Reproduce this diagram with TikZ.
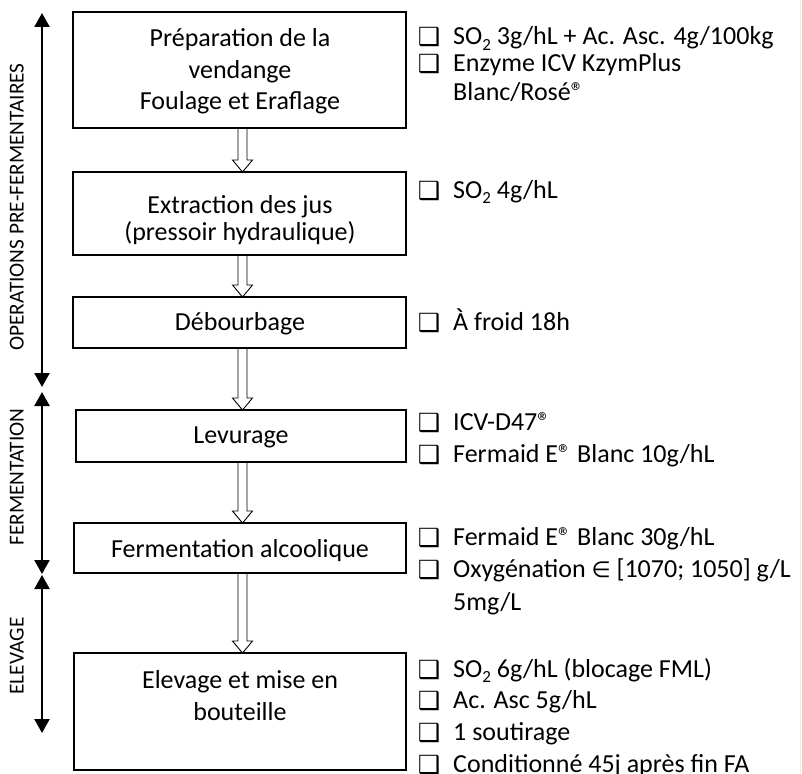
\documentclass[tikz,border=0pt]{standalone}
\usepackage{fontspec}
\setmainfont{Carlito}
\newfontfamily\dejavu{DejaVu Sans}
\usetikzlibrary{arrows.meta,calc}
\newcommand{\flowarrow}[2]{\path[flowarr] let \p1=(#1.south -| ax), \p2=(#2.north -| ax) in
 (\x1-4.5pt,\y1) -- (\x1+4.5pt,\y1) -- (\x1+4.5pt,\y2+12pt) -- (\x1+10pt,\y2+12pt) -- (\x1,\y2) -- (\x1-10pt,\y2+12pt) -- (\x1-4.5pt,\y2+12pt) -- cycle;}
\newcommand{\reg}{®}
\newcommand{\subtwo}{\raisebox{-5.5pt}[0pt][0pt]{\fontsize{17}{17}\selectfont 2}}
\begin{document}
\begin{tikzpicture}[x=1pt,y=-1pt,
 box/.style={draw,line width=1.6pt,inner sep=0pt,outer sep=0pt,rectangle},
 boxtxt/.style={anchor=base,inner sep=0pt,font=\fontsize{26}{30}\selectfont},
 item/.style={anchor=base west,inner sep=0pt,font=\fontsize{26}{30}\selectfont},
 chk/.style={anchor=base,inner sep=0pt,font=\dejavu\fontsize{25}{27}\selectfont},
 phase/.style={line width=2.2pt,{Triangle[width=15pt,length=14pt]}-{Triangle[width=15pt,length=14pt]}},
 phaselbl/.style={anchor=base,rotate=90,inner sep=0pt,font=\fontsize{21.3}{24}\selectfont},
 flowarr/.style={draw,line width=0.9pt,line join=miter}]
\useasboundingbox (0,0) rectangle (802,773);
\draw[color={rgb,255:red,232;green,240;blue,205},line width=0.8pt] (800.5,0) -- (800.5,773);
% boxes
\node[box,minimum width=333pt,minimum height=116pt] (b1) at (239.5,70) {};
\node[box,minimum width=333pt,minimum height=83pt] (b2) at (239.5,213.5) {};
\node[box,minimum width=333pt,minimum height=51pt] (b3) at (239.5,322.5) {};
\node[box,minimum width=330pt,minimum height=52pt] (b4) at (241,436) {};
\node[box,minimum width=332pt,minimum height=50pt] (b5) at (240,548) {};
\node[box,minimum width=332pt,minimum height=117pt] (b6) at (240,711.5) {};
% box texts
\node[boxtxt] (t1a) at (240,47) {Préparation de la};
\node[boxtxt] (t1b) at (240,79) {vendange};
\node[boxtxt] (t1c) at (240,110) {Foulage et Eraflage};
\node[boxtxt] (t2a) at (240,213) {Extraction des jus};
\node[boxtxt] (t2b) at (240,240) {(pressoir hydraulique)};
\node[boxtxt] (t3) at (240,330) {Débourbage};
\node[boxtxt] (t4) at (241,443) {Levurage};
\node[boxtxt] (t5) at (240,557) {Fermentation alcoolique};
\node[boxtxt] (t6a) at (240,688) {Elevage et mise en};
\node[boxtxt] (t6b) at (240,720) {bouteille};
% flow arrows
\coordinate (ax) at (242.5,0);
\flowarrow{b1}{b2}
\flowarrow{b2}{b3}
\flowarrow{b3}{b4}
\flowarrow{b4}{b5}
\flowarrow{b5}{b6}
% phase arrows
\coordinate (p1s) at (42,13); \coordinate (p1e) at (42,387);
\coordinate (p2s) at (42,392); \coordinate (p2e) at (42,574);
\coordinate (p3s) at (42,575); \coordinate (p3e) at (42,733);
\draw[phase] (p1s) -- (p1e);
\draw[phase] (p2s) -- (p2e);
\draw[phase] (p3s) -- (p3e);
\node[phaselbl] (l1) at (23.5,207) {OPERATIONS PRE-FERMENTAIRES};
\node[phaselbl] (l2) at (23.5,477) {FERMENTATION};
\node[phaselbl] (l3) at (23.5,656) {ELEVAGE};
% checklists
\foreach \y/\n in {46/c1,73/c2,199/c3,331/c4,431/c5,463/c6,546/c7,578/c8,678/c9,709/c10,741/c11,773/c12}
  \node[chk] (\n) at (429,\y) {❑};
\node[item] (i1) at (453,45) {SO\subtwo{} 3g/hL + Ac. Asc. 4g/100kg};
\node[item] (i2) at (453,72) {Enzyme ICV KzymPlus};
\node[item] (i2b) at (453,100) {Blanc/Rosé\reg};
\node[item] (i3) at (453,198) {SO\subtwo{} 4g/hL};
\node[item] (i4) at (453,330) {À froid 18h};
\node[item] (i5) at (453,430) {ICV-D47\reg};
\node[item] (i6) at (453,462) {Fermaid E\reg{} Blanc 10g/hL};
\node[item] (i7) at (453,545) {Fermaid E\reg{} Blanc 30g/hL};
\node[item] (i8) at (453,577) {Oxygénation {\dejavu\fontsize{22}{24}\selectfont ∈} [1070; 1050] g/L};
\node[item] (i8b) at (453,610) {5mg/L};
\node[item] (i9) at (453,677) {SO\subtwo{} 6g/hL (blocage FML)};
\node[item] (i10) at (453,708) {Ac. Asc 5g/hL};
\node[item] (i11) at (453,740) {1 soutirage};
\node[item] (i12) at (453,772) {Conditionné 45j après fin FA};
\end{tikzpicture}
\end{document}
